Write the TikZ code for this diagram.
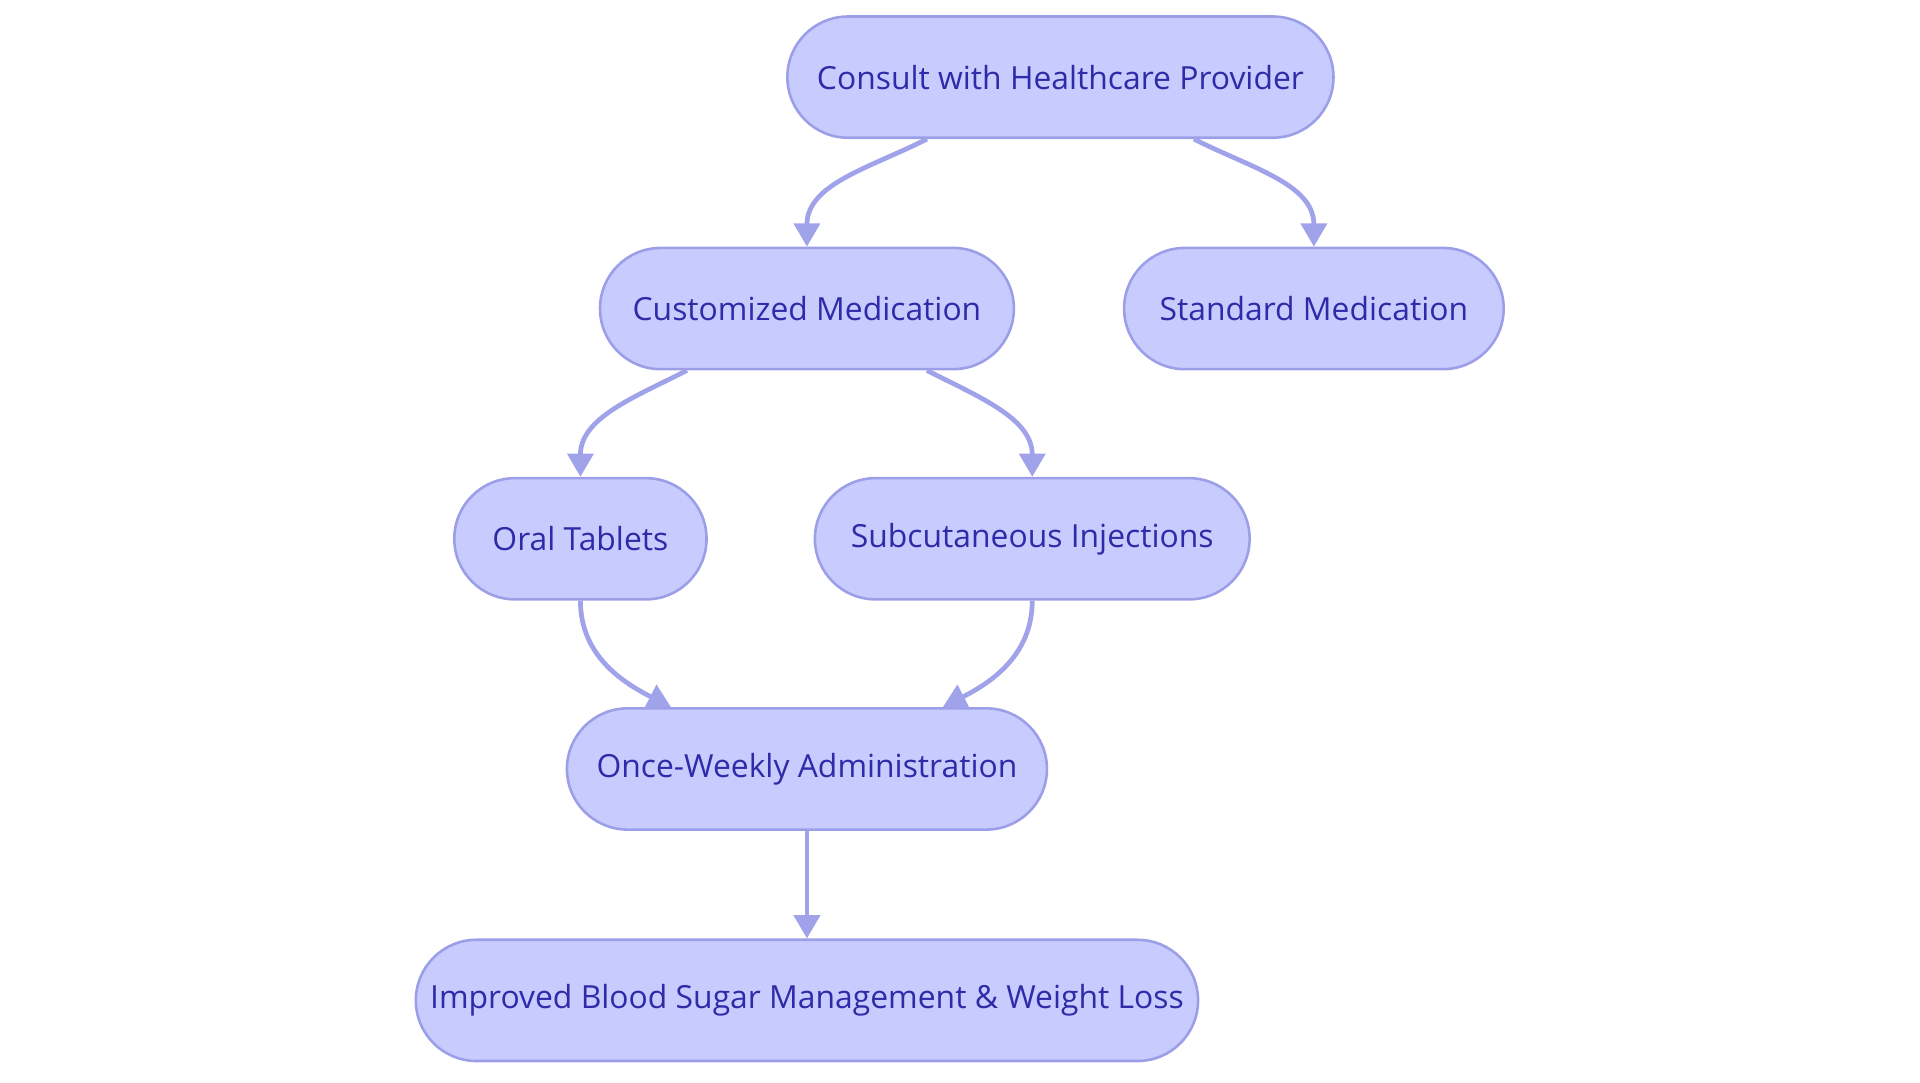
\documentclass[tikz,border=0pt]{standalone}
\usepackage{fontspec}
\setmainfont{Open Sans}
\usetikzlibrary{arrows.meta}
\definecolor{boxfill}{HTML}{C8CBFE}
\definecolor{boxline}{HTML}{9C9FE8}
\definecolor{boxtext}{HTML}{2E2BA8}
\definecolor{linkcol}{HTML}{A0A3EA}
\tikzset{
  stepnode/.style={draw=boxline, fill=boxfill, text=boxtext, rounded corners=0.495cm,
    minimum height=0.99cm, font=\fontsize{7.4pt}{9pt}\selectfont, line width=0.6pt},
  link/.style={draw=linkcol, line width=1.1pt, -{Triangle[length=0.19cm,width=0.21cm]}}
}
\begin{document}
\begin{tikzpicture}
\useasboundingbox (0,0) rectangle (15.68,8.84);
\node[stepnode, minimum width=4.46cm] (consult) at (8.66,8.21){Consult with Healthcare Provider};
\node[stepnode, minimum width=3.38cm] (custom) at (6.59,6.32){Customized Medication};
\node[stepnode, minimum width=3.10cm] (standard) at (10.73,6.32){Standard Medication};
\node[stepnode, minimum width=2.06cm] (oral) at (4.74,4.44){Oral Tablets};
\node[stepnode, minimum width=3.55cm] (subcut) at (8.43,4.44){Subcutaneous Injections};
\node[stepnode, minimum width=3.92cm] (weekly) at (6.59,2.56){Once-Weekly Administration};
\node[stepnode, minimum width=6.38cm] (result) at (6.59,0.67){Improved Blood Sugar Management \& Weight Loss};
% links
\draw[link] ([xshift=-1.09cm]consult.south) to[out=-153,in=90] (custom.north);
\draw[link] ([xshift=1.09cm]consult.south) to[out=-27,in=90] (standard.north);
\draw[link] ([xshift=-0.98cm]custom.south) to[out=-153,in=90] (oral.north);
\draw[link] ([xshift=0.98cm]custom.south) to[out=-27,in=90] (subcut.north);
\draw[link] (oral.south) to[out=-90,in=153] ([xshift=-1.11cm]weekly.north);
\draw[link] (subcut.south) to[out=-90,in=27] ([xshift=1.11cm]weekly.north);
\draw[link] (weekly.south) -- (result.north);
\end{tikzpicture}
\end{document}
